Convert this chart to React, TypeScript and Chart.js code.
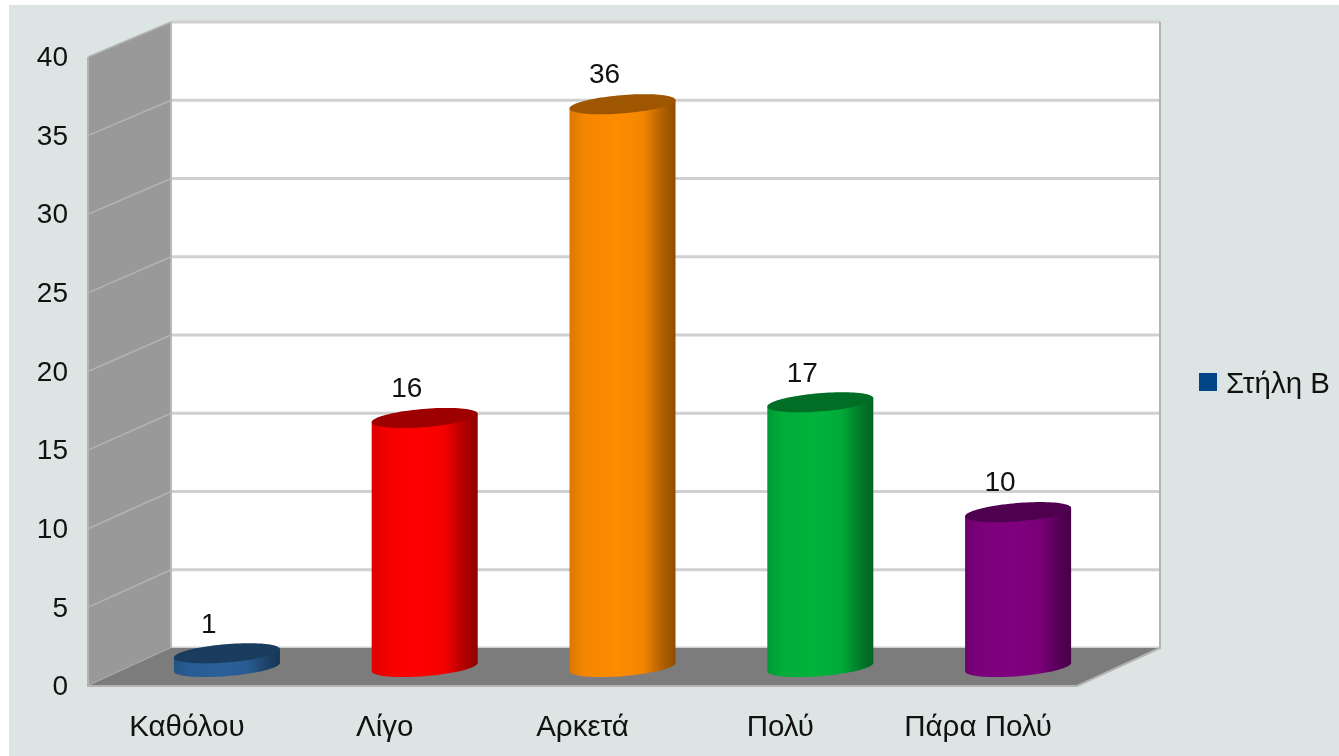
import React, { useEffect, useRef } from "react";
import { Chart, registerables } from "chart.js";

Chart.register(...registerables);

const categories = ["Καθόλου", "Λίγο", "Αρκετά", "Πολύ", "Πάρα Πολύ"];
const values = [1, 16, 36, 17, 10];
const seriesName = "Στήλη Β";
const barColors = ["#2a6099", "#ff0000", "#ff8c00", "#00b33c", "#800080"];
const legendColor = "#004586";

const FONT = '"Liberation Sans", Arial, sans-serif';
const PAGE_BG = "#dde5e4";
const DEPTH_X = 83;
const DEPTH_Y = 38;
const BACK_RATIO = 626 / 629;
const BAR_SHIFT = 40;
const TOP_DROP = 2;

function shade(hex: string, k: number) {
  const n = parseInt(hex.slice(1), 16);
  const c = [(n >> 16) & 255, (n >> 8) & 255, n & 255].map((v) => Math.round(v * k));
  return `rgb(${c[0]},${c[1]},${c[2]})`;
}

const scene3d = {
  id: "scene3d",
  beforeDraw(chart: any) {
    const { ctx, chartArea: a, scales } = chart;
    const y = scales.y;
    const bottom = y.getPixelForValue(0);
    const backY = (px: number) => bottom - DEPTH_Y - (bottom - px) * BACK_RATIO;
    const top = y.getPixelForValue(40);
    ctx.save();
    ctx.fillStyle = PAGE_BG;
    ctx.fillRect(9, 5, chart.width - 9, chart.height - 5);
    // back wall
    ctx.fillStyle = "#ffffff";
    ctx.fillRect(a.left + DEPTH_X, backY(top), a.right - a.left, backY(bottom) - backY(top));
    // side wall
    ctx.fillStyle = "#999999";
    ctx.beginPath();
    ctx.moveTo(a.left, bottom);
    ctx.lineTo(a.left + DEPTH_X, backY(bottom));
    ctx.lineTo(a.left + DEPTH_X, backY(top));
    ctx.lineTo(a.left, top);
    ctx.closePath();
    ctx.fill();
    // grid
    y.ticks.forEach((t: any) => {
      const p = y.getPixelForValue(t.value);
      const b = backY(p);
      ctx.strokeStyle = "#b3b3b3";
      ctx.lineWidth = 1.5;
      ctx.beginPath();
      ctx.moveTo(a.left, p);
      ctx.lineTo(a.left + DEPTH_X, b);
      ctx.stroke();
      ctx.strokeStyle = "#d0d0d0";
      ctx.lineWidth = 3;
      ctx.beginPath();
      ctx.moveTo(a.left + DEPTH_X, b);
      ctx.lineTo(a.right + DEPTH_X, b);
      ctx.stroke();
    });
    // floor
    ctx.fillStyle = "#7c7c7c";
    ctx.beginPath();
    ctx.moveTo(a.left, bottom);
    ctx.lineTo(a.right, bottom);
    ctx.lineTo(a.right + DEPTH_X, backY(bottom));
    ctx.lineTo(a.left + DEPTH_X, backY(bottom));
    ctx.closePath();
    ctx.fill();
    // borders
    ctx.strokeStyle = "#b3b3b3";
    ctx.lineWidth = 2;
    ctx.beginPath();
    ctx.moveTo(a.right + DEPTH_X, backY(top));
    ctx.lineTo(a.right + DEPTH_X, backY(bottom));
    ctx.lineTo(a.right, bottom);
    ctx.lineTo(a.left, bottom);
    ctx.lineTo(a.left, top);
    ctx.stroke();
    ctx.strokeStyle = "#b8b8b8";
    ctx.beginPath();
    ctx.moveTo(a.left + DEPTH_X, backY(top));
    ctx.lineTo(a.left + DEPTH_X, backY(bottom));
    ctx.stroke();
    ctx.restore();
  },
  beforeDatasetDraw(chart: any, args: any) {
    const { ctx } = chart;
    const y = chart.scales.y;
    const base = y.getPixelForValue(0);
    const midPlane = (px: number) => base - DEPTH_Y / 2 - (base - px) * ((1 + BACK_RATIO) / 2);
    const els = args.meta.data;
    els.forEach((el: any) => {
      const color = el.options.backgroundColor;
      const half = el.width / 2;
      const cx = el.x + BAR_SHIFT;
      const vy = -half * 0.19;
      const vx = (vy * DEPTH_X) / -DEPTH_Y;
      const ux = Math.sqrt(half * half - vx * vx);
      const topY = midPlane(el.y) + TOP_DROP;
      const botY = midPlane(el.base);
      const t0 = Math.atan2(vx, ux);
      const pt = (cy: number, t: number): [number, number] => [
        cx + ux * Math.cos(t) + vx * Math.sin(t),
        cy + vy * Math.sin(t),
      ];
      const grad = ctx.createLinearGradient(cx - half, 0, cx + half, 0);
      grad.addColorStop(0, shade(color, 0.86));
      grad.addColorStop(0.14, shade(color, 0.96));
      grad.addColorStop(0.45, shade(color, 1));
      grad.addColorStop(0.7, shade(color, 0.95));
      grad.addColorStop(0.85, shade(color, 0.72));
      grad.addColorStop(1, shade(color, 0.55));
      ctx.save();
      ctx.fillStyle = grad;
      ctx.beginPath();
      const n = 48;
      let p = pt(topY, t0);
      ctx.moveTo(p[0], p[1]);
      p = pt(botY, t0);
      ctx.lineTo(p[0], p[1]);
      for (let k = 1; k <= n; k++) {
        p = pt(botY, t0 - (Math.PI * k) / n);
        ctx.lineTo(p[0], p[1]);
      }
      p = pt(topY, t0 - Math.PI);
      ctx.lineTo(p[0], p[1]);
      ctx.closePath();
      ctx.fill();
      ctx.fillStyle = shade(color, 0.62);
      ctx.beginPath();
      for (let k = 0; k <= n * 2; k++) {
        p = pt(topY, (Math.PI * k) / n);
        if (k === 0) ctx.moveTo(p[0], p[1]);
        else ctx.lineTo(p[0], p[1]);
      }
      ctx.closePath();
      ctx.fill();
      ctx.restore();
    });
    return false;
  },
  afterDatasetsDraw(chart: any) {
    const { ctx } = chart;
    const meta = chart.getDatasetMeta(0);
    const y = chart.scales.y;
    const base = y.getPixelForValue(0);
    ctx.save();
    ctx.font = `28px ${FONT}`;
    ctx.fillStyle = "#111111";
    ctx.textAlign = "center";
    ctx.textBaseline = "middle";
    meta.data.forEach((el: any, i: number) => {
      const topY = base - DEPTH_Y / 2 - (base - el.y) * ((1 + BACK_RATIO) / 2);
      ctx.fillText(String(values[i]), el.x + BAR_SHIFT - 18, topY - 26.5);
    });
    // legend
    ctx.fillStyle = legendColor;
    ctx.fillRect(1199, 373, 18, 18);
    ctx.font = `29.5px ${FONT}`;
    ctx.fillStyle = "#111111";
    ctx.textAlign = "left";
    ctx.fillText(seriesName, 1226, 384.5);
    ctx.restore();
  },
};

export default function App() {
  const ref = useRef<HTMLCanvasElement>(null);
  useEffect(() => {
    const chart = new Chart(ref.current!, {
      type: "bar",
      data: {
        labels: categories,
        datasets: [
          {
            label: seriesName,
            data: values,
            backgroundColor: barColors,
            categoryPercentage: 1,
            barPercentage: 0.536,
          },
        ],
      },
      options: {
        responsive: false,
        animation: false,
        layout: { padding: { top: 57, right: 262, left: 0, bottom: 0 } },
        plugins: { legend: { display: false }, tooltip: { enabled: false } },
        scales: {
          x: {
            grid: { display: false, drawTicks: false },
            border: { display: false },
            ticks: {
              padding: 24,
              color: "#111111",
              maxRotation: 0,
              autoSkip: false,
              font: { family: FONT, size: 29.5 },
            },
            afterFit(s: any) {
              s.height = 70;
            },
          },
          y: {
            min: 0,
            max: 40,
            grid: { display: false, drawTicks: false },
            border: { display: false },
            ticks: {
              stepSize: 5,
              padding: 20,
              labelOffset: 1.5,
              color: "#111111",
              font: { family: FONT, size: 28 },
            },
            afterFit(s: any) {
              s.width = 88;
            },
          },
        },
      },
      plugins: [scene3d],
    } as any);
    return () => chart.destroy();
  }, []);
  return (
    <div style={{ position: "fixed", left: 0, top: 0, width: 1339, height: 756, background: "#ffffff", overflow: "hidden" }}>
      <canvas ref={ref} width={1339} height={756} style={{ display: "block", filter: "blur(0.5px)" }} />
    </div>
  );
}
